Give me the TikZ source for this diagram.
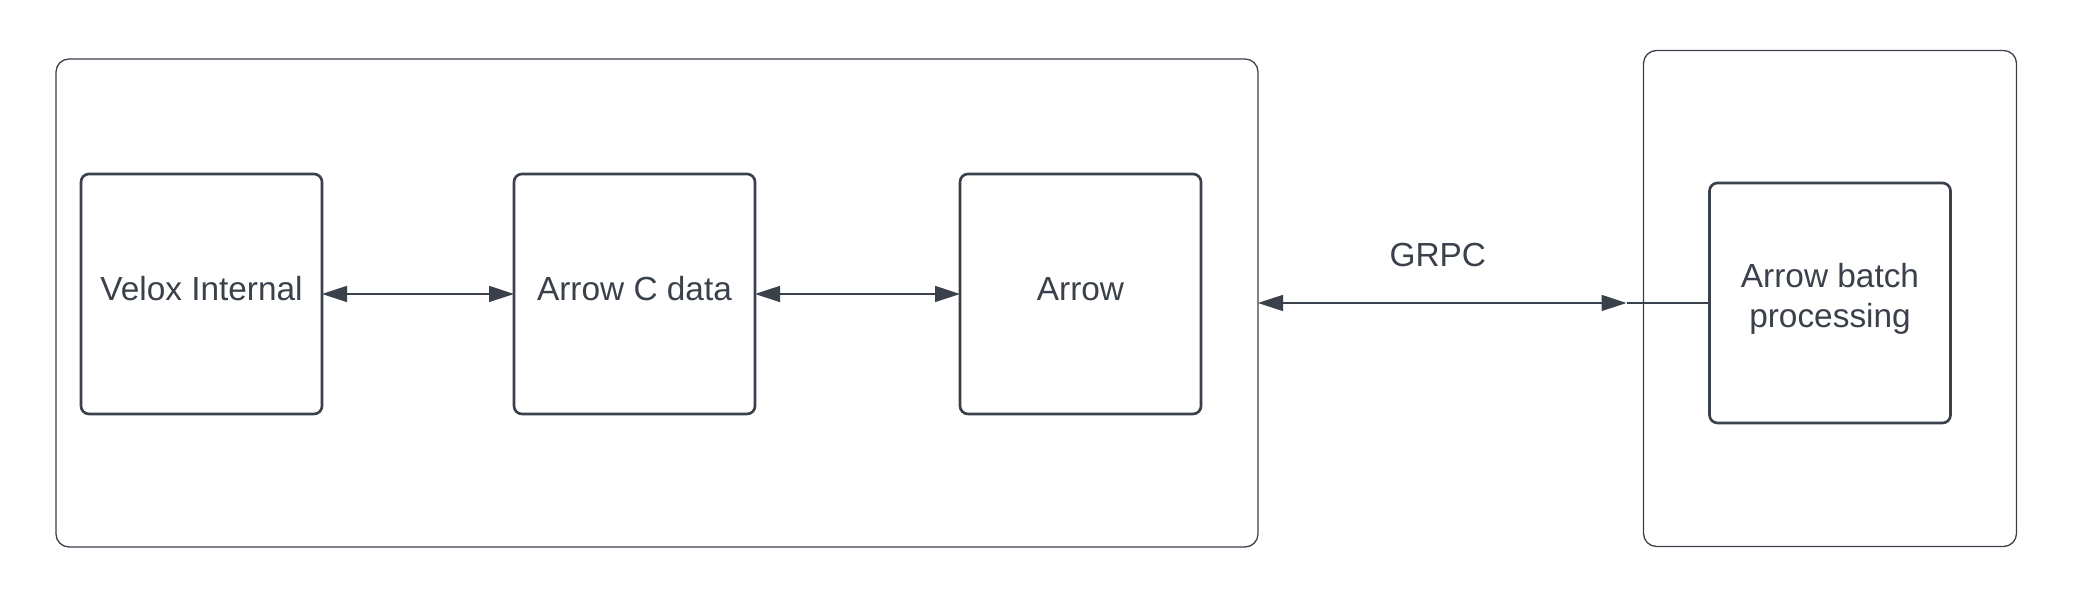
\documentclass[tikz,border=0pt]{standalone}
\usepackage{fontspec}
\setmainfont{Liberation Sans}
\usetikzlibrary{positioning}
\usetikzlibrary{arrows.meta,shapes}
\usetikzlibrary{calc}
\definecolor{ink}{HTML}{3A414A}

\begin{document}
\begin{tikzpicture}[font=\fontsize{9.5}{11.3}\selectfont, text=ink,
  >={Triangle[length=0.25cm, width=0.16cm]},
  outerbox/.style={draw=ink, line width=0.37pt, rounded corners=0.13cm, inner sep=0pt, outer sep=0pt},
  unit/.style={draw=ink, line width=0.75pt, rounded corners=0.08cm, minimum width=2.41cm, minimum height=2.40cm, inner sep=0pt, outer sep=0pt, align=center, text depth=3pt},
  link/.style={draw=ink, line width=0.45pt}]

\useasboundingbox (0,0) rectangle (20.94,6.10);

% containers
\node[outerbox, minimum width=12.02cm, minimum height=4.88cm] (host) at (6.57, 3.07) {};
\node[outerbox, minimum width=3.73cm, minimum height=4.96cm] (remote) at (18.30, 3.115) {};

% components
\node[unit] (velox) at (2.015, 3.16) {Velox Internal};
\node[unit, right=1.92cm of velox] (cdata) {Arrow C data};
\node[unit, right=2.05cm of cdata] (arrow) {Arrow};
\node[unit, text depth=4.2pt] (batch) at (18.30, 3.07) {Arrow batch\\processing};

\draw[link, <->] (velox) -- (cdata);
\draw[link, <->] (cdata) -- (arrow);

% grpc link
\coordinate (tip) at ([xshift=-0.17cm]remote.west |- batch.west);
\draw[link, <->] (host.east |- batch.west) -- node[pos=0.488, yshift=0.48cm] (grpc) {GRPC} (tip);
\draw[link] (tip) -- (batch);

\end{tikzpicture}
\end{document}
